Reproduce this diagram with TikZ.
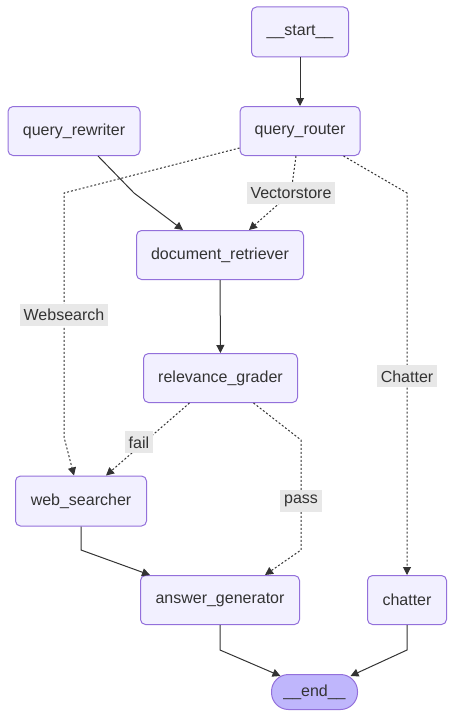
\documentclass[tikz,border=0pt]{standalone}
\usepackage{fontspec}
\setmainfont{Liberation Sans}
\usepackage{tikz}
\usetikzlibrary{arrows.meta, calc, positioning}
\definecolor{nodebg}{HTML}{F2F0FF}
\definecolor{nodeline}{HTML}{9370DB}
\definecolor{endbg}{HTML}{BFB6FC}
\definecolor{edgecol}{HTML}{333333}
\definecolor{lblbg}{HTML}{E8E8E8}

\begin{document}
\begin{tikzpicture}[x=1pt, y=-1pt,
    every node/.style={font=\fontsize{16}{19}\selectfont, text=edgecol},
    box/.style={draw=nodeline, fill=nodebg, line width=1pt, rounded corners=5pt, minimum height=49pt, inner sep=0pt},
    flow/.style={draw=edgecol, line width=1pt, -{Triangle[length=8pt, width=8pt]}},
    cond/.style={flow, dash pattern=on 2pt off 2pt},
    lbl/.style={fill=lblbg, inner xsep=4pt, inner ysep=0pt, minimum height=22pt}]
        \useasboundingbox (0,0) rectangle (454,717);

        % Nodes
        \node[box, minimum width=97pt, minimum height=50pt] (start) at (300, 32) {\_\_start\_\_};
        \node[box, minimum width=132pt] (rewriter) at (74, 131) {query\_rewriter};
        \node[box, minimum width=120pt] (router) at (300, 131) {query\_router};
        \node[box, minimum width=167pt] (retriever) at (220, 255) {document\_retriever};
        \node[box, minimum width=154pt] (grader) at (220.5, 378) {relevance\_grader};
        \node[box, minimum width=131pt, minimum height=50pt] (web) at (81, 501) {web\_searcher};
        \node[box, minimum width=159pt] (answer) at (220, 600) {answer\_generator};
        \node[box, minimum width=79pt] (chatter) at (407, 600) {chatter};
        \node[box, fill=endbg, rounded corners=17pt, minimum width=86pt, minimum height=35pt] (finish) at (314.5, 692) {\_\_end\_\_};

        % Solid edges
        \draw[flow] (start) -- (router);
        \draw[flow] ($(rewriter.south)+(24,0)$) -- (134, 193) -- ($(retriever.north)+(-37,0)$);
        \draw[flow] (retriever) -- (grader);
        \draw[flow] (web.south) -- (81, 550) -- ($(answer.north)+(-70,0)$);
        \draw[flow] (answer.south) -- (220, 650) -- ($(finish.north)+(-34,2)$);
        \draw[flow] (chatter.south) -- (407, 650) -- ($(finish.north)+(36,2)$);

        % Conditional edges
        \draw[cond] ($(router.south)+(-4,0)$) -- (291, 193) node[lbl] {Vectorstore} -- ($(retriever.north)+(29,0)$);
        \draw[cond] ($(router.south west)+(0,-8)$) -- (64, 193) -- (64, 437) node[lbl, midway] {Websearch} -- ($(web.north)+(-7,0)$);
        \draw[cond] ($(router.south east)+(-17,0)$) -- (407, 193) -- (chatter.north) node[lbl, pos=0.48] {Chatter};
        \draw[cond] ($(grader.south)+(-31,0)$) -- ($(web.north)+(25,0)$) node[lbl, pos=0.57, xshift=-3pt, yshift=2pt] {fail};
        \draw[cond] ($(grader.south)+(33,0)$) -- (301, 440) -- (301, 550) node[lbl, pos=0.55] {pass} -- ($(answer.north)+(45,0)$);
\end{tikzpicture}
\end{document}
